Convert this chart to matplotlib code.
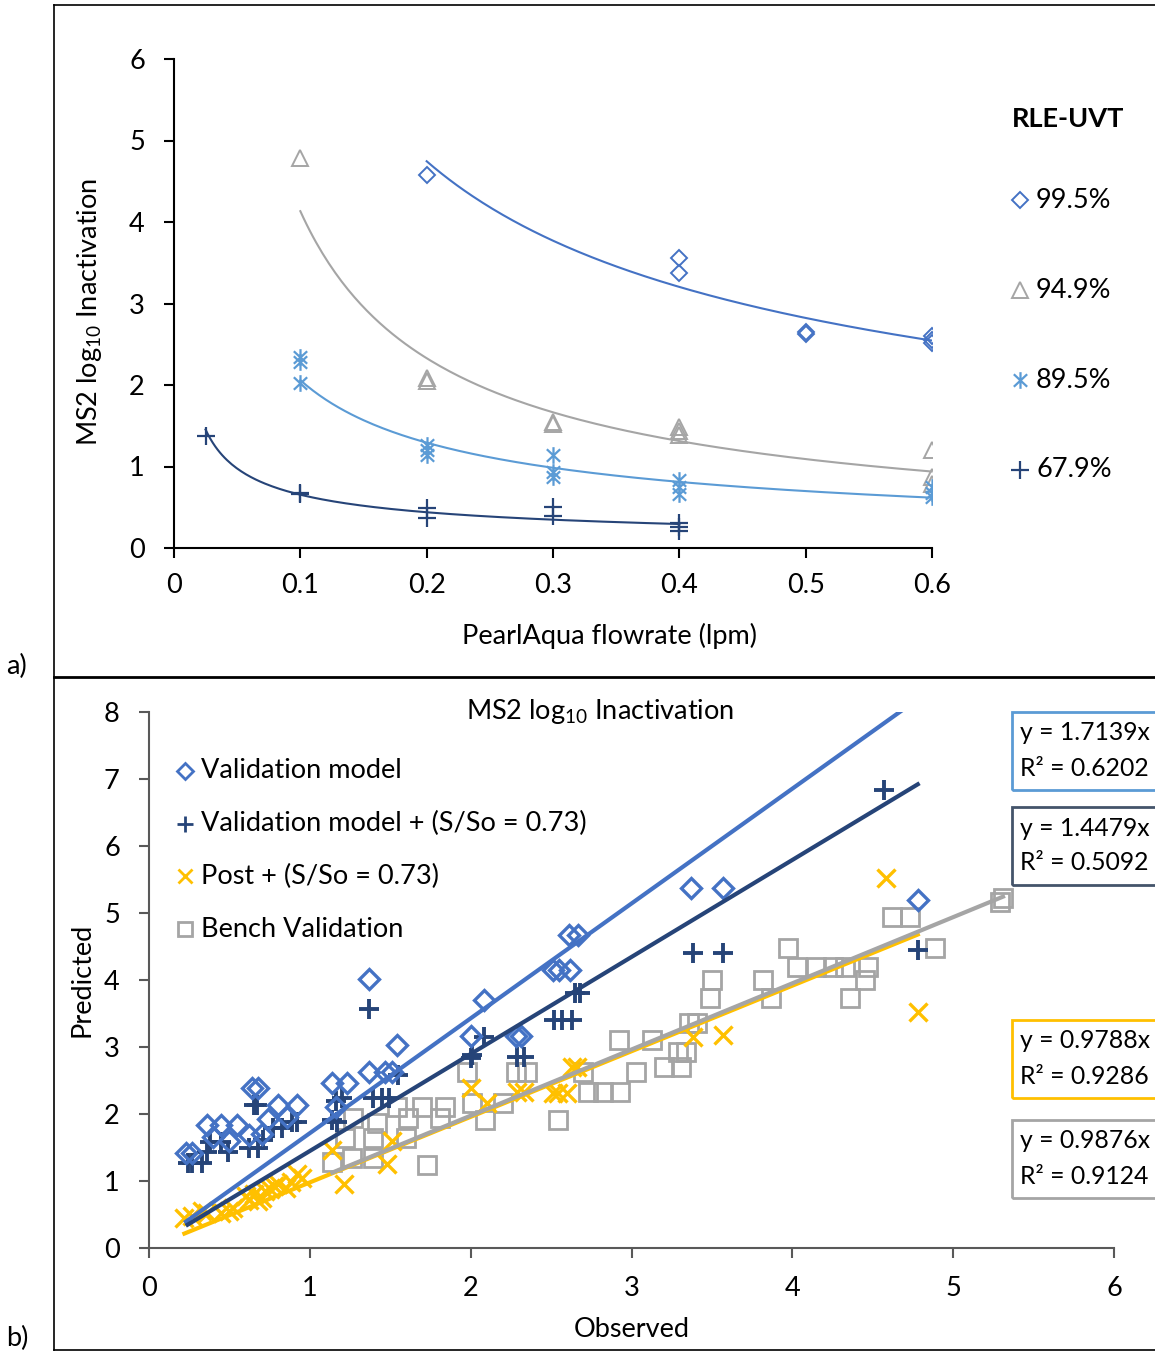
import numpy as np
import matplotlib
matplotlib.use("Agg")
import matplotlib.pyplot as plt
from matplotlib.path import Path
from matplotlib.lines import Line2D
from matplotlib.patches import Rectangle

plt.rcParams['font.family'] = ['Lato', 'DejaVu Sans']
plt.rcParams['mathtext.fontset'] = 'custom'
plt.rcParams['mathtext.rm'] = 'Lato'
plt.rcParams['mathtext.it'] = 'Lato:italic'

# ---------------- data: panel a (flowrate vs inactivation) ----------------
uvt_labels = ["99.5%", "94.9%", "89.5%", "67.9%"]
uvt_colors = ["#4472C4", "#A5A5A5", "#5B9BD5", "#264478"]

flow_995 = [0.2, 0.4, 0.4, 0.5, 0.5, 0.6, 0.6, 0.6]
inact_995 = [4.58, 3.56, 3.37, 2.65, 2.63, 2.60, 2.52, 2.55]

flow_949 = [0.1, 0.2, 0.2, 0.3, 0.3, 0.4, 0.4, 0.4, 0.6, 0.6, 0.6]
inact_949 = [4.79, 2.09, 2.05, 1.55, 1.52, 1.48, 1.43, 1.39, 1.20, 0.87, 0.78]

flow_895 = [0.1, 0.1, 0.1, 0.2, 0.2, 0.2, 0.3, 0.3, 0.3, 0.4, 0.4, 0.4, 0.6, 0.6, 0.6]
inact_895 = [2.34, 2.28, 2.02, 1.26, 1.20, 1.14, 1.14, 0.93, 0.87, 0.83, 0.75, 0.66, 0.75, 0.68, 0.63]

flow_679 = [0.025, 0.1, 0.1, 0.2, 0.2, 0.3, 0.3, 0.4, 0.4, 0.4]
inact_679 = [1.37, 0.68, 0.66, 0.49, 0.37, 0.50, 0.39, 0.31, 0.26, 0.21]

# ---------------- data: panel b (observed vs predicted) ----------------
val_obs = [0.23, 0.27, 0.36, 0.45, 0.55, 0.40, 0.50, 0.62, 0.70, 0.74, 0.64, 0.68,
           0.80, 0.86, 0.92, 1.14, 1.23, 1.16, 1.37, 1.37, 1.47, 1.51, 1.54, 2.00,
           2.08, 2.28, 2.31, 2.51, 2.55, 2.62, 2.61, 2.67, 3.37, 3.57, 4.78]
val_pred = [1.42, 1.42, 1.84, 1.84, 1.84, 1.65, 1.60, 1.68, 1.70, 1.92, 2.39, 2.39,
            2.14, 1.95, 2.14, 2.46, 2.46, 2.10, 4.02, 2.63, 2.63, 2.63, 3.03, 3.16,
            3.70, 3.16, 3.16, 4.15, 4.15, 4.15, 4.67, 4.67, 5.37, 5.37, 5.19]

valso_obs = [0.24, 0.27, 0.33, 0.36, 0.38, 0.45, 0.49, 0.62, 0.68, 0.71, 0.77, 0.83,
             0.89, 0.92, 0.65, 0.67, 1.16, 1.20, 1.17, 1.14, 1.39, 1.45, 1.49, 1.55,
             1.37, 2.01, 2.08, 2.00, 2.29, 2.33, 2.52, 2.57, 2.63, 2.65, 2.68, 3.38,
             3.57, 4.78, 4.57]
valso_pred = [1.27, 1.27, 1.27, 1.43, 1.58, 1.58, 1.43, 1.49, 1.49, 1.61, 1.79, 1.79,
              1.88, 1.88, 2.13, 2.13, 2.20, 2.24, 1.88, 1.91, 2.24, 2.24, 2.24, 2.58,
              3.57, 2.88, 3.15, 2.84, 2.85, 2.85, 3.40, 3.40, 3.40, 3.81, 3.81, 4.40,
              4.40, 4.45, 6.84]

post_obs = [0.22, 0.27, 0.33, 0.36, 0.45, 0.50, 0.52, 0.62, 0.65, 0.68, 0.72, 0.75,
            0.80, 0.85, 0.88, 0.92, 0.95, 0.60, 0.70, 0.78, 1.14, 1.21, 1.51, 1.48,
            2.00, 2.10, 2.29, 2.33, 2.51, 2.54, 2.60, 2.63, 2.66, 3.38, 3.57, 4.78,
            4.58]
post_pred = [0.45, 0.48, 0.55, 0.52, 0.52, 0.55, 0.60, 0.72, 0.80, 0.70, 0.85, 0.88,
             0.95, 0.90, 0.98, 1.10, 1.05, 0.78, 0.75, 0.92, 1.47, 0.95, 1.60, 1.26,
             2.39, 2.16, 2.33, 2.33, 2.31, 2.31, 2.31, 2.70, 2.70, 3.15, 3.18, 3.52,
             5.52]

bench_obs = [1.14, 1.26, 1.22, 1.27, 1.39, 1.39, 1.42, 1.54, 1.61, 1.60, 1.70, 1.73,
             1.84, 1.81, 1.98, 2.01, 2.09, 2.20, 2.28, 2.35, 2.54, 2.70, 2.73, 2.82,
             2.93, 2.92, 3.03, 3.13, 3.29, 3.34, 3.20, 3.31, 3.36, 3.41, 3.49, 3.50,
             3.82, 3.87, 3.97, 4.03, 4.15, 4.25, 4.33, 4.47, 4.45, 4.36, 4.62, 4.73,
             4.89, 5.29, 5.31]
bench_pred = [1.28, 1.34, 1.64, 1.94, 1.64, 1.34, 1.87, 2.10, 1.94, 1.64, 2.10, 1.24,
              2.10, 1.94, 2.63, 2.16, 1.91, 2.16, 2.63, 2.63, 1.91, 2.63, 2.33, 2.33,
              2.33, 3.10, 2.63, 3.10, 2.93, 2.93, 2.70, 2.70, 3.36, 3.36, 3.73, 4.00,
              4.00, 3.73, 4.48, 4.19, 4.19, 4.19, 4.19, 4.19, 4.00, 3.73, 4.94, 4.94,
              4.48, 5.16, 5.22]

series_names = ["Validation model", "Validation model + (S/So = 0.73)",
                "Post + (S/So = 0.73)", "Bench Validation"]
slopes = [1.7139, 1.4479, 0.9788, 0.9876]
r2_vals = [0.6202, 0.5092, 0.9286, 0.9124]

# ---------------- figure ----------------
W, H = 1155, 1352
FS = 19.5
fig = plt.figure(figsize=(W / 100, H / 100), dpi=100)


def fx(px):
    return px / W


def fy(py):
    return 1 - py / H


# outer frames
fig.add_artist(Line2D([fx(54), fx(54)], [fy(5), fy(1350)], color="black", lw=1.2))
fig.add_artist(Line2D([fx(54), 1.0], [fy(5), fy(5)], color="black", lw=1.2))
fig.add_artist(Line2D([fx(54), 1.0], [fy(676.5), fy(676.5)], color="black", lw=2.0))
fig.add_artist(Line2D([fx(54), 1.0], [fy(1350), fy(1350)], color="black", lw=1.2))
fig.text(fx(6), fy(666), "a)", fontsize=FS, va="center")
fig.text(fx(6), fy(1338), "b)", fontsize=FS, va="center")

# asterisk marker like Excel's
star = Path([(0, -1), (0, 1), (-0.8, -0.75), (0.8, 0.75), (-0.8, 0.75), (0.8, -0.75)],
            [Path.MOVETO, Path.LINETO, Path.MOVETO, Path.LINETO, Path.MOVETO, Path.LINETO])

# ---------------- panel a ----------------
ax1 = fig.add_axes([fx(174), fy(548), fx(932) - fx(174), fy(59) - fy(548)])
top_sets = [(flow_995, inact_995), (flow_949, inact_949),
            (flow_895, inact_895), (flow_679, inact_679)]
top_markers = [dict(marker="D", ms=8, mfc="none", mew=1.4),
               dict(marker="^", ms=11, mfc="none", mew=1.4),
               dict(marker=star, ms=12, mew=1.6),
               dict(marker="+", ms=13, mew=1.6)]
for (xs, ys), col, mk in zip(top_sets, uvt_colors, top_markers):
    xs = np.array(xs)
    ys = np.array(ys)
    ax1.plot(xs, ys, ls="none", color=col, mec=col, **mk)
    # power trendline fitted in log space (like Excel)
    b, la = np.polyfit(np.log(xs), np.log(ys), 1)
    xx = np.linspace(xs.min(), xs.max(), 200)
    ax1.plot(xx, np.exp(la) * xx ** b, color=col, lw=1.5)

ax1.set_xlim(0, 0.6)
ax1.set_ylim(0, 6)
ax1.set_xticks(np.arange(0, 0.61, 0.1))
ax1.set_xticklabels(["0", "0.1", "0.2", "0.3", "0.4", "0.5", "0.6"])
ax1.set_yticks(range(7))
for s in ["top", "right"]:
    ax1.spines[s].set_visible(False)
for s in ["left", "bottom"]:
    ax1.spines[s].set_linewidth(1.5)
ax1.tick_params(labelsize=FS, length=7, width=1.5)
ax1.tick_params(axis="x", pad=11)
ax1.tick_params(axis="y", pad=14)
ax1.set_xlabel("PearlAqua flowrate (lpm)", fontsize=FS)
ax1.xaxis.set_label_coords((610 - 174) / 758, -(636 - 548) / 489, transform=ax1.transAxes)
ax1.set_ylabel("MS2 log$_{10}$ Inactivation", fontsize=FS)
ax1.yaxis.set_label_coords(-(174 - 90) / 758, (548 - 312) / 489, transform=ax1.transAxes)
ax1.xaxis.label.set_va("center")
ax1.yaxis.label.set_va("center")

fig.text(fx(1068), fy(119), "RLE-UVT", fontsize=FS, fontweight="bold", ha="center", va="center")
for i, (lab, col, mk) in enumerate(zip(uvt_labels, uvt_colors, top_markers)):
    yy = fy(200 + 90 * i)
    fig.add_artist(Line2D([fx(1020)], [yy], color=col, mec=col, ls="none", **mk))
    fig.text(fx(1036), yy, lab, fontsize=FS, va="center")

# ---------------- panel b ----------------
ax2 = fig.add_axes([fx(149), fy(1248), fx(1114) - fx(149), fy(712) - fy(1248)])
bot_sets = [(val_obs, val_pred), (valso_obs, valso_pred),
            (post_obs, post_pred), (bench_obs, bench_pred)]
bot_colors = ["#4472C4", "#264478", "#FFC000", "#A5A5A5"]
bot_markers = [dict(marker="D", ms=10, mfc="none", mew=2.4),
               dict(marker="+", ms=15, mew=2.8),
               dict(marker="x", ms=13, mew=2.4),
               dict(marker="s", ms=13, mfc="none", mew=2.0)]
# draw order: bench behind
for k in [3, 2, 1, 0]:
    xs, ys = bot_sets[k]
    ax2.plot(xs, ys, ls="none", color=bot_colors[k], mec=bot_colors[k], **bot_markers[k])
for k in [0, 1, 2, 3]:
    xs = np.array(bot_sets[k][0])
    xx = np.array([xs.min(), xs.max()])
    ax2.plot(xx, slopes[k] * xx, color=bot_colors[k], lw=3)

ax2.set_xlim(0, 6)
ax2.set_ylim(0, 8)
ax2.set_xticks(range(7))
ax2.set_yticks(range(9))
for s in ["top", "right"]:
    ax2.spines[s].set_visible(False)
for s in ["left", "bottom"]:
    ax2.spines[s].set_color("#595959")
    ax2.spines[s].set_linewidth(1.5)
ax2.tick_params(labelsize=FS, length=7, width=1.5, color="#595959")
ax2.tick_params(axis="x", pad=13)
ax2.tick_params(axis="y", pad=14)
ax2.set_xlabel("Observed", fontsize=FS, labelpad=12)
ax2.set_ylabel("Predicted", fontsize=FS)
ax2.yaxis.set_label_coords(-(149 - 82) / 965, 0.5, transform=ax2.transAxes)
ax2.yaxis.label.set_va("center")
fig.text(fx(600), fy(712), "MS2 log$_{10}$ Inactivation", fontsize=FS, ha="center", va="center")

for i, (lab, col, mk) in enumerate(zip(series_names, bot_colors, bot_markers)):
    yy = fy(771 + 52.7 * i)
    small = dict(mk)
    small["ms"] = mk["ms"] * 0.8
    small["mew"] = 2.0
    fig.add_artist(Line2D([fx(185)], [yy], color=col, mec=col, ls="none", **small))
    fig.text(fx(201), yy, lab, fontsize=FS, va="center")

box_tops = [712, 807, 1020, 1120]
box_edges = ["#5B9BD5", "#44546A", "#FFC000", "#A5A5A5"]
for top, edge, sl, r2 in zip(box_tops, box_edges, slopes, r2_vals):
    fig.add_artist(Rectangle((fx(1012), fy(top + 78)), fx(200), 78 / H,
                             transform=fig.transFigure, fill=False, ec=edge, lw=2, clip_on=False))
    fig.text(fx(1020), fy(top + 21), "y = %.4fx" % sl, fontsize=17.8, va="center")
    fig.text(fx(1020), fy(top + 56), "R² = %.4f" % r2, fontsize=17.8, va="center")

fig.savefig("out.png", dpi=100)
